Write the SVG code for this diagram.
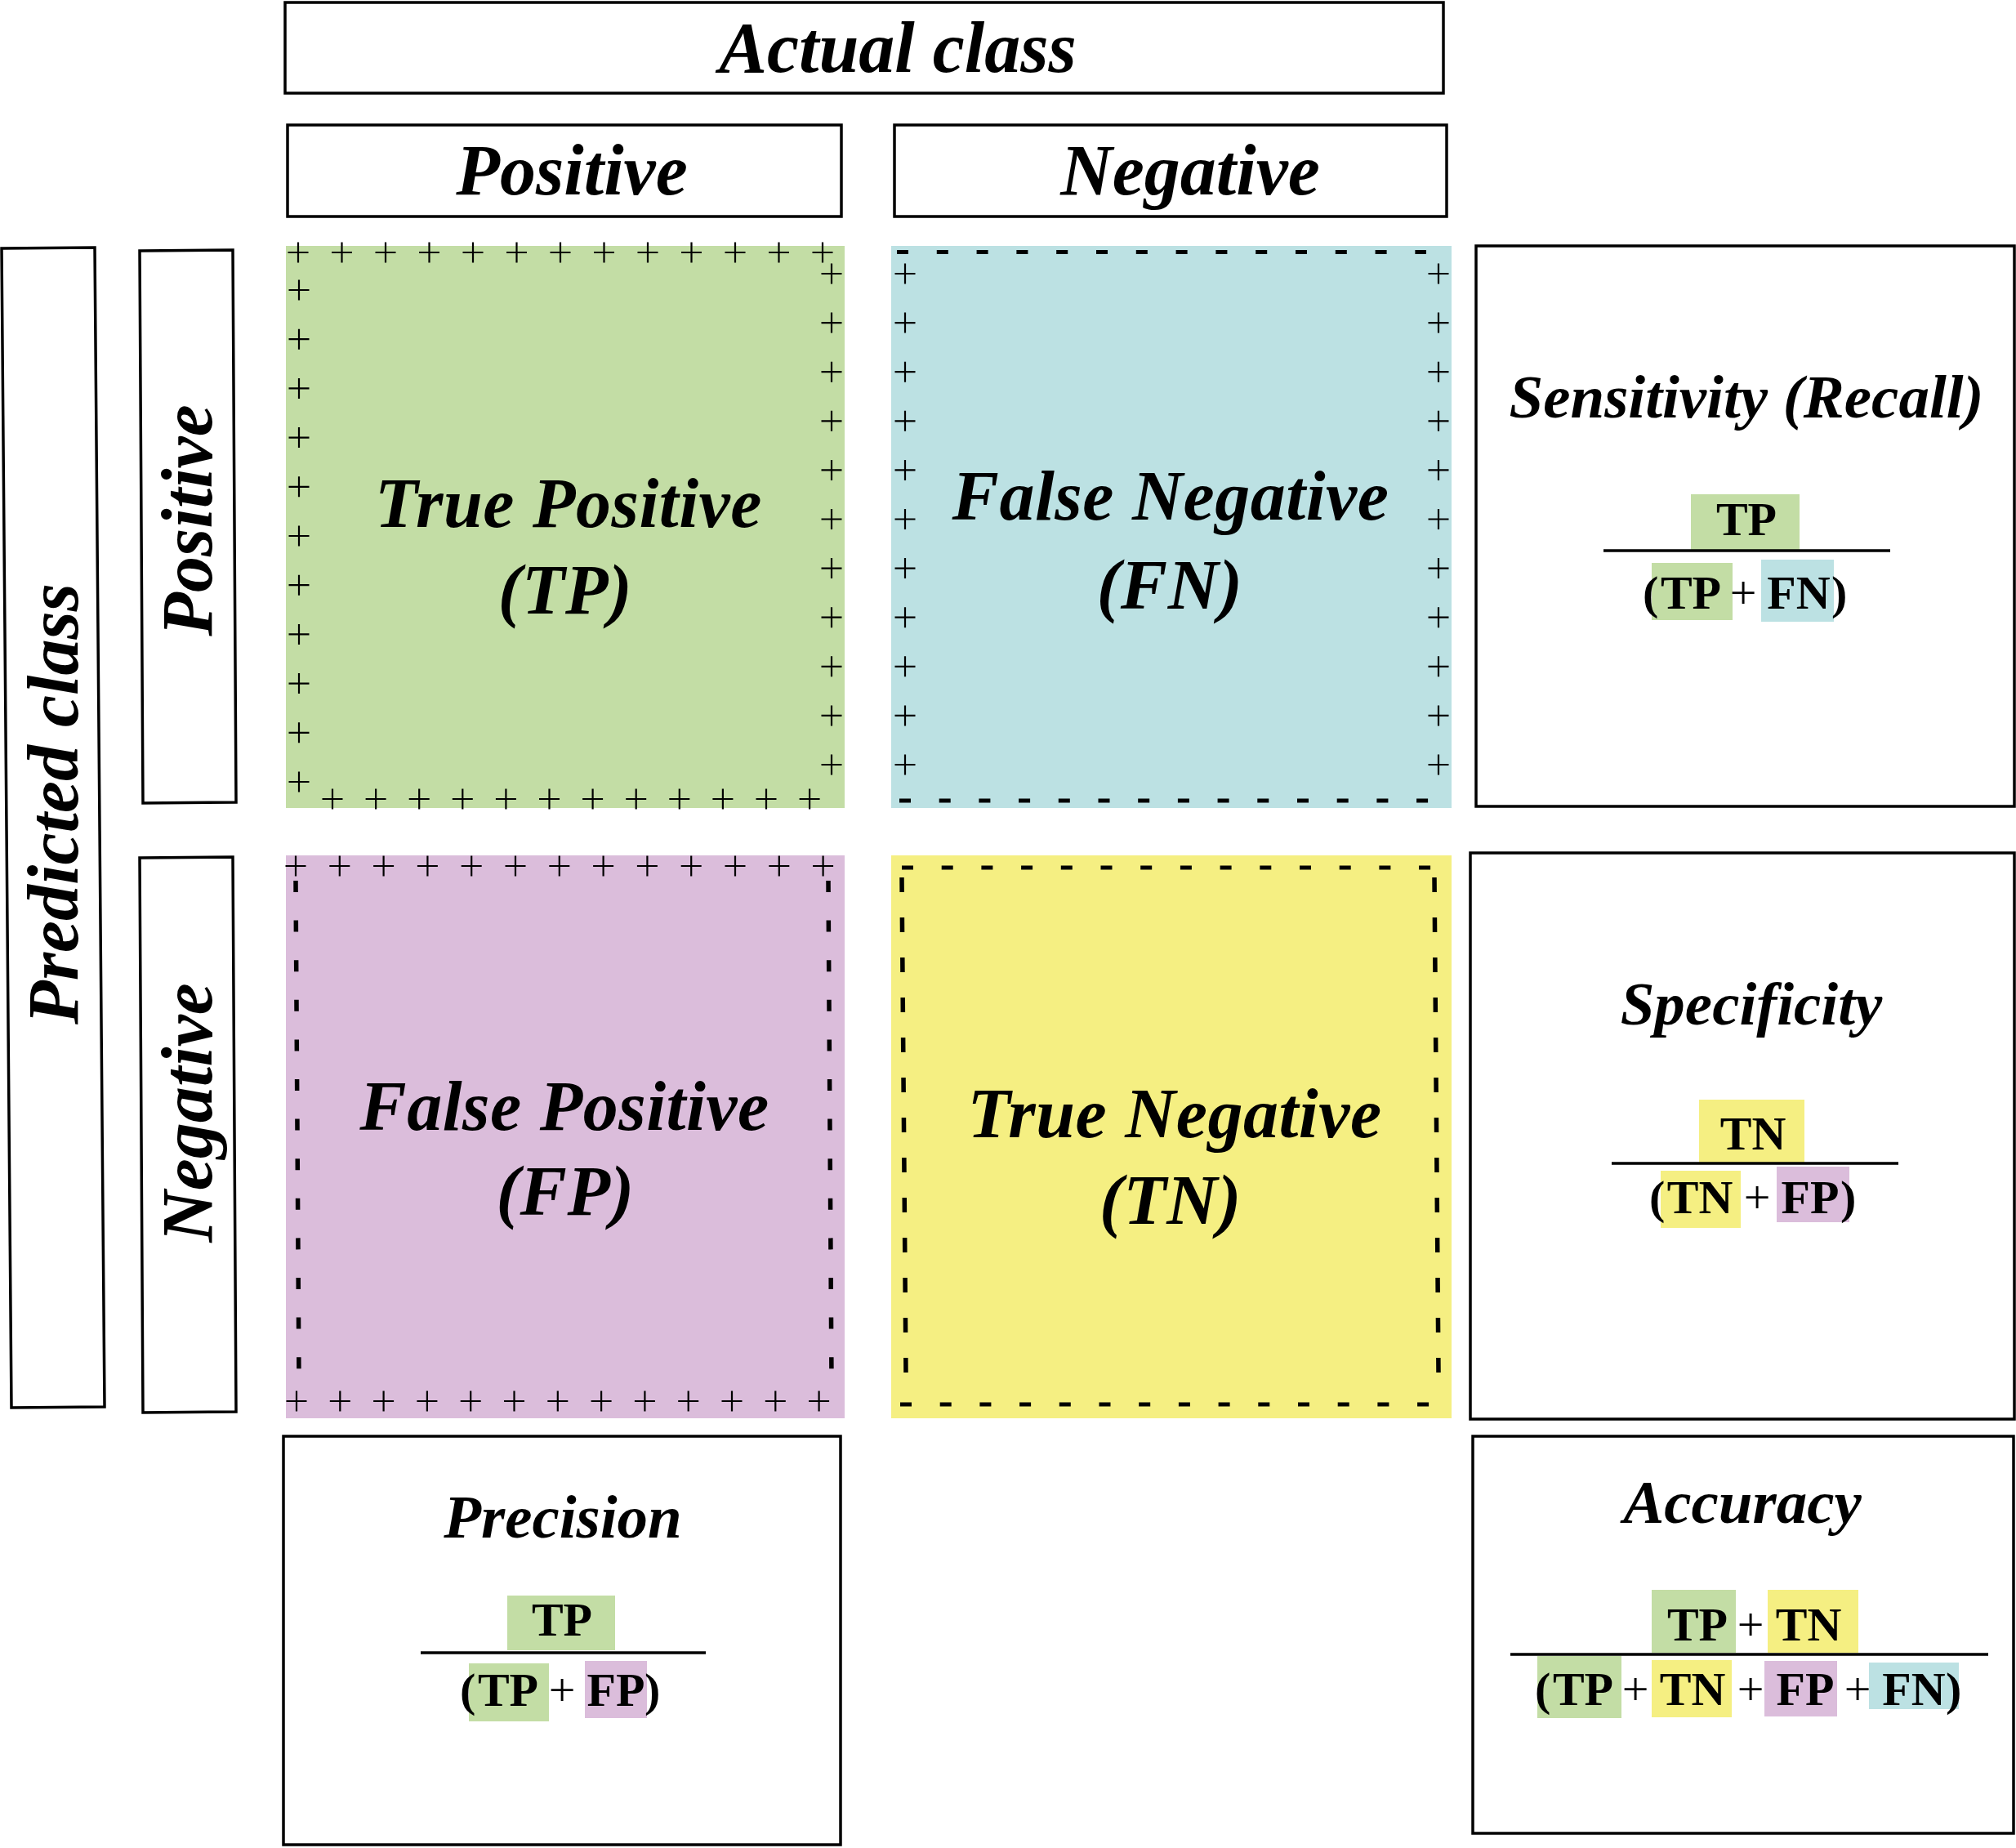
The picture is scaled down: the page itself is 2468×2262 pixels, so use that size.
<svg xmlns="http://www.w3.org/2000/svg" width="2468" height="2262" viewBox="0 0 2468 2262">
<style>
.box{fill:#fff;stroke:#000;stroke-width:3.5}
.t{font-family:"Liberation Serif","Times New Roman",serif;fill:#000}
.hdr{font-weight:bold;font-style:italic;font-size:88px}
.cell{font-weight:bold;font-style:italic;font-size:86px;letter-spacing:0.5px}
.met{font-weight:bold;font-style:italic;font-size:75px}
.f{font-weight:bold;font-size:58px}
.op{font-weight:normal;font-size:58px}
.pl{stroke:#000;stroke-width:2.2;fill:none}
.ds{stroke:#000;stroke-width:5;fill:none}
.dsv{stroke:#000;stroke-width:5.5;fill:none}
.frac{stroke:#000;stroke-width:3.5}
.g{fill:#c3dda5}.c{fill:#bce1e3}.m{fill:#dbbddb}.y{fill:#f5ef82}
</style>
<defs>
<path id="p" class="pl" d="M-12.5,0H12.5M0,-12.5V12.5"/>
</defs>

<g id="actual-class">
<rect class="box" x="349" y="3" width="1418" height="111"/>
<text class="t hdr" x="1099" y="88" text-anchor="middle">Actual class</text>
</g>
<g id="actual-positive">
<rect class="box" x="352" y="153" width="678" height="112"/>
<text class="t hdr" x="700" y="238" text-anchor="middle">Positive</text>
</g>
<g id="actual-negative">
<rect class="box" x="1095" y="153" width="676" height="112"/>
<text class="t hdr" x="1457" y="238" text-anchor="middle">Negative</text>
</g>

<g id="predicted-class">
<polygon class="box" points="2,304 116,303 128,1722 14,1723"/>
<text class="t hdr" transform="translate(95,984) rotate(-90)" text-anchor="middle">Predicted class</text>
</g>
<g id="predicted-positive">
<polygon class="box" points="171,307 285,306 289,982 175,983"/>
<text class="t hdr" transform="translate(259,637) rotate(-90)" text-anchor="middle">Positive</text>
</g>
<g id="predicted-negative">
<polygon class="box" points="171,1050 285,1049 289,1728 175,1729"/>
<text class="t hdr" transform="translate(259,1362) rotate(-90)" text-anchor="middle">Negative</text>
</g>

<g id="tp">
<rect class="g" x="350" y="301" width="684" height="688"/>
<g>
<use href="#p" x="365" y="309"/><use href="#p" x="418.5" y="309"/><use href="#p" x="472" y="309"/><use href="#p" x="525.5" y="309"/><use href="#p" x="579" y="309"/><use href="#p" x="632.5" y="309"/><use href="#p" x="686" y="309"/><use href="#p" x="739.5" y="309"/><use href="#p" x="793" y="309"/><use href="#p" x="846.5" y="309"/><use href="#p" x="900" y="309"/><use href="#p" x="953.5" y="309"/><use href="#p" x="1007" y="309"/>
<use href="#p" x="366" y="355"/><use href="#p" x="366" y="415.2"/><use href="#p" x="366" y="475.4"/><use href="#p" x="366" y="535.6"/><use href="#p" x="366" y="595.8"/><use href="#p" x="366" y="656"/><use href="#p" x="366" y="716.2"/><use href="#p" x="366" y="776.4"/><use href="#p" x="366" y="836.6"/><use href="#p" x="366" y="896.8"/><use href="#p" x="366" y="957"/>
<use href="#p" x="1018" y="335"/><use href="#p" x="1018" y="395.1"/><use href="#p" x="1018" y="455.2"/><use href="#p" x="1018" y="515.3"/><use href="#p" x="1018" y="575.4"/><use href="#p" x="1018" y="635.5"/><use href="#p" x="1018" y="695.6"/><use href="#p" x="1018" y="755.7"/><use href="#p" x="1018" y="815.8"/><use href="#p" x="1018" y="875.9"/><use href="#p" x="1018" y="936"/>
<use href="#p" x="407" y="978"/><use href="#p" x="460.1" y="978"/><use href="#p" x="513.2" y="978"/><use href="#p" x="566.3" y="978"/><use href="#p" x="619.4" y="978"/><use href="#p" x="672.5" y="978"/><use href="#p" x="725.6" y="978"/><use href="#p" x="778.7" y="978"/><use href="#p" x="831.8" y="978"/><use href="#p" x="884.9" y="978"/><use href="#p" x="938" y="978"/><use href="#p" x="991.1" y="978"/>
</g>
<text class="t cell" x="696" y="645" text-anchor="middle">True Positive</text>
<text class="t cell" x="692" y="751" text-anchor="middle">(TP)</text>
</g>

<g id="fn">
<rect class="c" x="1091" y="301" width="686" height="688"/>
<line class="ds" x1="1098" y1="308.5" x2="1746" y2="308.5" stroke-dasharray="14 34.8"/>
<line class="ds" x1="1101" y1="980" x2="1749" y2="980" stroke-dasharray="14 34.7"/>
<g>
<use href="#p" x="1108" y="335"/><use href="#p" x="1108" y="395.1"/><use href="#p" x="1108" y="455.2"/><use href="#p" x="1108" y="515.3"/><use href="#p" x="1108" y="575.4"/><use href="#p" x="1108" y="635.5"/><use href="#p" x="1108" y="695.6"/><use href="#p" x="1108" y="755.7"/><use href="#p" x="1108" y="815.8"/><use href="#p" x="1108" y="875.9"/><use href="#p" x="1108" y="936"/>
<use href="#p" x="1761" y="335"/><use href="#p" x="1761" y="395.1"/><use href="#p" x="1761" y="455.2"/><use href="#p" x="1761" y="515.3"/><use href="#p" x="1761" y="575.4"/><use href="#p" x="1761" y="635.5"/><use href="#p" x="1761" y="695.6"/><use href="#p" x="1761" y="755.7"/><use href="#p" x="1761" y="815.8"/><use href="#p" x="1761" y="875.9"/><use href="#p" x="1761" y="936"/>
</g>
<text class="t cell" x="1433" y="636" text-anchor="middle">False Negative</text>
<text class="t cell" x="1432" y="745" text-anchor="middle">(FN)</text>
</g>

<g id="fp">
<rect class="m" x="350" y="1047" width="684" height="689"/>
<line class="dsv" x1="362" y1="1078" x2="366" y2="1690" stroke-dasharray="14 34.6"/>
<line class="dsv" x1="1014" y1="1078" x2="1018" y2="1690" stroke-dasharray="14 34.6"/>
<g>
<use href="#p" x="362" y="1060"/><use href="#p" x="415.8" y="1060"/><use href="#p" x="469.6" y="1060"/><use href="#p" x="523.4" y="1060"/><use href="#p" x="577.2" y="1060"/><use href="#p" x="631" y="1060"/><use href="#p" x="684.8" y="1060"/><use href="#p" x="738.6" y="1060"/><use href="#p" x="792.4" y="1060"/><use href="#p" x="846.2" y="1060"/><use href="#p" x="900" y="1060"/><use href="#p" x="953.8" y="1060"/><use href="#p" x="1007.6" y="1060"/>
<use href="#p" x="363" y="1715"/><use href="#p" x="416.3" y="1715"/><use href="#p" x="469.6" y="1715"/><use href="#p" x="522.9" y="1715"/><use href="#p" x="576.2" y="1715"/><use href="#p" x="629.5" y="1715"/><use href="#p" x="682.8" y="1715"/><use href="#p" x="736.1" y="1715"/><use href="#p" x="789.4" y="1715"/><use href="#p" x="842.7" y="1715"/><use href="#p" x="896" y="1715"/><use href="#p" x="949.3" y="1715"/><use href="#p" x="1002.6" y="1715"/>
</g>
<text class="t cell" x="691" y="1383" text-anchor="middle">False Positive</text>
<text class="t cell" x="692" y="1487" text-anchor="middle">(FP)</text>
</g>

<g id="tn">
<rect class="y" x="1091" y="1047" width="686" height="689"/>
<line class="ds" x1="1104" y1="1062" x2="1755" y2="1062" stroke-dasharray="14 34.7"/>
<line class="ds" x1="1102" y1="1719" x2="1753" y2="1719" stroke-dasharray="14 34.7"/>
<line class="dsv" x1="1104" y1="1074" x2="1109" y2="1680" stroke-dasharray="18 31"/>
<line class="dsv" x1="1756" y1="1074" x2="1761" y2="1680" stroke-dasharray="18 31"/>
<text class="t cell" x="1438" y="1392" text-anchor="middle">True Negative</text>
<text class="t cell" x="1433" y="1498" text-anchor="middle">(TN)</text>
</g>

<g id="sensitivity">
<rect class="box" x="1807" y="301" width="659" height="686"/>
<text class="t met" x="2138" y="511" text-anchor="middle">Sensitivity (Recall)</text>
<rect class="g" x="2070" y="605" width="133" height="68"/>
<text class="t f" x="2138" y="655" text-anchor="middle">TP</text>
<line class="frac" x1="1963" y1="674" x2="2314" y2="674"/>
<rect class="g" x="2022" y="689" width="99" height="70"/>
<rect class="c" x="2156" y="685" width="89" height="76"/>
<text class="t f" x="2011" y="745">(</text>
<text class="t f" x="2070" y="745" text-anchor="middle">TP</text>
<text class="t op" x="2134" y="745" text-anchor="middle">+</text>
<text class="t f" x="2202" y="745" text-anchor="middle">FN</text>
<text class="t f" x="2242" y="745">)</text>
</g>

<g id="specificity">
<rect class="box" x="1800" y="1044" width="666" height="693"/>
<text class="t met" x="2144" y="1254" text-anchor="middle">Specificity</text>
<rect class="y" x="2080" y="1346" width="129" height="77"/>
<text class="t f" x="2146" y="1407" text-anchor="middle">TN</text>
<line class="frac" x1="1973" y1="1424" x2="2324" y2="1424"/>
<rect class="y" x="2033" y="1433" width="98" height="70"/>
<rect class="m" x="2175" y="1428" width="89" height="68"/>
<text class="t f" x="2019" y="1485">(</text>
<text class="t f" x="2081" y="1485" text-anchor="middle">TN</text>
<text class="t op" x="2151" y="1485" text-anchor="middle">+</text>
<text class="t f" x="2216" y="1485" text-anchor="middle">FP</text>
<text class="t f" x="2253" y="1485">)</text>
</g>

<g id="precision">
<rect class="box" x="347" y="1758" width="682" height="500"/>
<text class="t met" x="689" y="1882" text-anchor="middle">Precision</text>
<rect class="g" x="621" y="1953" width="132" height="67"/>
<text class="t f" x="688" y="2002" text-anchor="middle">TP</text>
<line class="frac" x1="515" y1="2023" x2="864" y2="2023"/>
<rect class="g" x="574" y="2036" width="98" height="71"/>
<rect class="m" x="716" y="2033" width="76" height="70"/>
<text class="t f" x="563" y="2088">(</text>
<text class="t f" x="622" y="2088" text-anchor="middle">TP</text>
<text class="t op" x="688" y="2088" text-anchor="middle">+</text>
<text class="t f" x="754" y="2088" text-anchor="middle">FP</text>
<text class="t f" x="789" y="2088">)</text>
</g>

<g id="accuracy">
<rect class="box" x="1803" y="1758" width="662" height="486"/>
<text class="t met" x="2133" y="1864" text-anchor="middle">Accuracy</text>
<rect class="g" x="2022" y="1946" width="103" height="77"/>
<rect class="y" x="2164" y="1946" width="111" height="77"/>
<text class="t f" x="2078" y="2008" text-anchor="middle">TP</text>
<text class="t op" x="2143" y="2008" text-anchor="middle">+</text>
<text class="t f" x="2214" y="2008" text-anchor="middle">TN</text>
<line class="frac" x1="1849" y1="2025" x2="2434" y2="2025"/>
<rect class="g" x="1882" y="2027" width="103" height="76"/>
<rect class="y" x="2022" y="2032" width="98" height="70"/>
<rect class="m" x="2160" y="2033" width="89" height="68"/>
<rect class="c" x="2288" y="2035" width="110" height="57"/>
<text class="t f" x="1879" y="2087">(</text>
<text class="t f" x="1938" y="2087" text-anchor="middle">TP</text>
<text class="t op" x="2002" y="2087" text-anchor="middle">+</text>
<text class="t f" x="2072" y="2087" text-anchor="middle">TN</text>
<text class="t op" x="2143" y="2087" text-anchor="middle">+</text>
<text class="t f" x="2210" y="2087" text-anchor="middle">FP</text>
<text class="t op" x="2274" y="2087" text-anchor="middle">+</text>
<text class="t f" x="2343" y="2087" text-anchor="middle">FN</text>
<text class="t f" x="2382" y="2087">)</text>
</g>

<g id="connectors"></g>
</svg>
